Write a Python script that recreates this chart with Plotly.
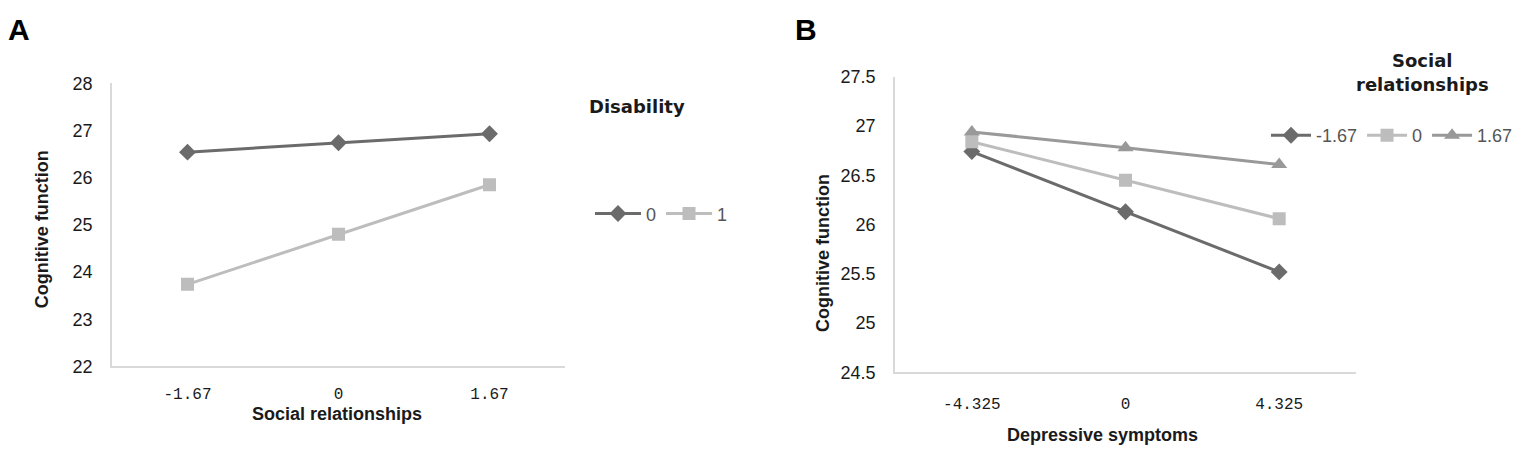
import plotly.graph_objects as go

# page body has an 8px default margin; the figure is sized so the page fills the window exactly
M = 8
W, H = 1535 - 2 * M, 465 - 2 * M

# ---- data ----
a_categories = ["-1.67", "0", "1.67"]
a_disability0 = [26.54, 26.74, 26.93]
a_disability1 = [23.74, 24.80, 25.85]

b_categories = ["-4.325", "0", "4.325"]
b_social_m167 = [26.74, 26.13, 25.52]
b_social_0 = [26.84, 26.45, 26.06]
b_social_p167 = [26.94, 26.78, 26.61]

DARK = "#6b6b6b"
LIGHT = "#bdbdbd"
MID = "#999999"
AXIS = "#d9d9d9"
TXT = "#1a1a1a"


def px(x):
    return (x - M) / W


def py(y):
    return 1 - (y - M) / H


fig = go.Figure()

fig.add_trace(go.Scatter(x=a_categories, y=a_disability0, name="0", mode="lines+markers",
                         line=dict(color=DARK, width=3), marker=dict(symbol="diamond", size=13, color=DARK),
                         xaxis="x", yaxis="y", legend="legend"))
fig.add_trace(go.Scatter(x=a_categories, y=a_disability1, name="1", mode="lines+markers",
                         line=dict(color=LIGHT, width=3), marker=dict(symbol="square", size=13, color=LIGHT),
                         xaxis="x", yaxis="y", legend="legend"))

fig.add_trace(go.Scatter(x=b_categories, y=b_social_m167, name="-1.67", mode="lines+markers",
                         line=dict(color=DARK, width=3), marker=dict(symbol="diamond", size=13, color=DARK),
                         xaxis="x2", yaxis="y2", legend="legend2"))
fig.add_trace(go.Scatter(x=b_categories, y=b_social_0, name="0", mode="lines+markers",
                         line=dict(color=LIGHT, width=3), marker=dict(symbol="square", size=13, color=LIGHT),
                         xaxis="x2", yaxis="y2", legend="legend2"))
fig.add_trace(go.Scatter(x=b_categories, y=b_social_p167, name="1.67", mode="lines+markers",
                         line=dict(color=MID, width=3), marker=dict(symbol="triangle-up", size=14, color=MID),
                         xaxis="x2", yaxis="y2", legend="legend2"))

xt = dict(type="category", showgrid=False, zeroline=False, showline=True, linecolor=AXIS, linewidth=1.5,
          ticks="", tickfont=dict(family="Liberation Mono", size=16, color=TXT), range=[-0.5, 2.5],
          fixedrange=True)
yt = dict(showgrid=False, zeroline=False, showline=True, linecolor=AXIS, linewidth=1.5, ticks="",
          tickfont=dict(family="Liberation Sans", size=18, color=TXT), fixedrange=True)

fig.update_layout(
    width=W, height=H,
    margin=dict(l=0, r=0, t=0, b=0),
    paper_bgcolor="white", plot_bgcolor="white",
    font=dict(family="Liberation Sans", color=TXT),
    xaxis=dict(xt, domain=[px(112), px(565)], anchor="y", ticklabelstandoff=12),
    yaxis=dict(yt, domain=[py(372.7), py(76.3)], anchor="x", range=[22, 28], dtick=1, ticklabelstandoff=14),
    xaxis2=dict(xt, domain=[px(895), px(1356)], anchor="y2", ticklabelstandoff=16),
    yaxis2=dict(yt, domain=[py(379), py(69.4)], anchor="x2", range=[24.5, 27.5], dtick=0.5, ticklabelstandoff=14),
    legend=dict(orientation="h", x=px(590), y=py(213), xanchor="left", yanchor="middle",
                font=dict(family="Liberation Sans", size=18, color="#555555"), bgcolor="rgba(0,0,0,0)",
                itemwidth=46, tracegroupgap=0),
    legend2=dict(orientation="h", x=px(1266), y=py(131), xanchor="left", yanchor="middle",
                 font=dict(family="Liberation Sans", size=18, color="#555555"), bgcolor="rgba(0,0,0,0)",
                 itemwidth=40, tracegroupgap=0),
    showlegend=True,
)

ann = [
    dict(text="<b>A</b>", x=px(6), y=py(20), xanchor="left", yanchor="middle", font=dict(size=30, family="Liberation Sans", color="black")),
    dict(text="<b>B</b>", x=px(793), y=py(20), xanchor="left", yanchor="middle", font=dict(size=30, family="Liberation Sans", color="black")),
    dict(text="<b>Cognitive function</b>", x=px(42), y=py(229), textangle=-90, xanchor="center", yanchor="middle", font=dict(size=18)),
    dict(text="<b>Social relationships</b>", x=px(337), y=py(422), xanchor="center", yanchor="middle", font=dict(size=18)),
    dict(text="<b>Cognitive function</b>", x=px(823), y=py(254), textangle=-90, xanchor="center", yanchor="middle", font=dict(size=18)),
    dict(text="<b>Depressive symptoms</b>", x=px(1102), y=py(444), xanchor="center", yanchor="middle", font=dict(size=18)),
    dict(text="<b>Disability</b>", x=px(637), y=py(101), xanchor="center", yanchor="middle", font=dict(size=18, family="DejaVu Sans")),
    dict(text="<b>Social</b>", x=px(1422), y=py(53), xanchor="center", yanchor="middle", font=dict(size=18, family="DejaVu Sans")),
    dict(text="<b>relationships</b>", x=px(1422), y=py(78), xanchor="center", yanchor="middle", font=dict(size=18, family="DejaVu Sans")),
]
for a in ann:
    a.update(xref="paper", yref="paper", showarrow=False)
fig.update_layout(annotations=ann)

fig.write_html("out.html")
